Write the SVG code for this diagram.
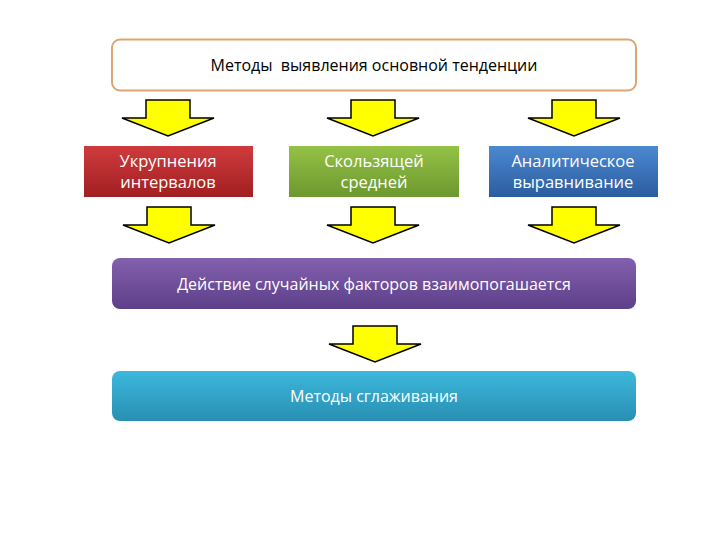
<svg xmlns="http://www.w3.org/2000/svg" width="720" height="540" viewBox="0 0 720 540">
<style>
.t{font-family:"Open Sans","Liberation Sans",sans-serif;font-size:16px;text-anchor:middle}
.b{font-size:16.5px}
.w{fill:#ffffff}
.arr{fill:#ffff00;stroke:#000000;stroke-width:1.5;stroke-linejoin:miter}
</style>
<defs>
<linearGradient id="gr" x1="0" y1="0" x2="0" y2="1"><stop offset="0" stop-color="#cf3b3d"/><stop offset="1" stop-color="#a11f22"/></linearGradient>
<linearGradient id="gg" x1="0" y1="0" x2="0" y2="1"><stop offset="0" stop-color="#94c246"/><stop offset="1" stop-color="#6d982f"/></linearGradient>
<linearGradient id="gb" x1="0" y1="0" x2="0" y2="1"><stop offset="0" stop-color="#4c89d0"/><stop offset="1" stop-color="#2b5c9f"/></linearGradient>
<linearGradient id="gp" x1="0" y1="0" x2="0" y2="1"><stop offset="0" stop-color="#8360ad"/><stop offset="1" stop-color="#5d3f8a"/></linearGradient>
<linearGradient id="gc" x1="0" y1="0" x2="0" y2="1"><stop offset="0" stop-color="#3cb8dc"/><stop offset="1" stop-color="#288fb2"/></linearGradient>
<path id="a" d="M-22,0 H22 V18 H46 L0,36 L-46,18 H-22 Z"/>
</defs>
<rect width="720" height="540" fill="#ffffff"/>
<g id="connectors">
<use href="#a" class="arr" x="168" y="100"/>
<use href="#a" class="arr" x="373" y="100"/>
<use href="#a" class="arr" x="574" y="100"/>
<use href="#a" class="arr" x="169" y="207"/>
<use href="#a" class="arr" x="373" y="207"/>
<use href="#a" class="arr" x="574" y="207"/>
<use href="#a" class="arr" x="375" y="326"/>
</g>
<g id="top">
<rect x="112" y="39.5" width="524" height="51" rx="8" fill="#ffffff" stroke="#dba66f" stroke-width="2"/>
<text class="t" x="374" y="71" fill="#000000" xml:space="preserve">Методы  выявления основной тенденции</text>
</g>
<g id="ukr">
<rect x="84" y="146" width="169" height="51" fill="url(#gr)"/>
<text class="t b w" x="168" y="167">Укрупнения</text>
<text class="t b w" x="168" y="188">интервалов</text>
</g>
<g id="skol">
<rect x="289" y="146" width="170" height="51" fill="url(#gg)"/>
<text class="t b w" x="374" y="167">Скользящей</text>
<text class="t b w" x="374" y="188">средней</text>
</g>
<g id="anal">
<rect x="489" y="146" width="169" height="51" fill="url(#gb)"/>
<text class="t b w" x="573" y="167">Аналитическое</text>
<text class="t b w" x="573" y="188">выравнивание</text>
</g>
<g id="deist">
<rect x="112" y="258" width="524" height="51" rx="8" fill="url(#gp)"/>
<text class="t w" x="374" y="290">Действие случайных факторов взаимопогашается</text>
</g>
<g id="sglazh">
<rect x="112" y="371" width="524" height="50" rx="8" fill="url(#gc)"/>
<text class="t w" x="374" y="402">Методы сглаживания</text>
</g>
</svg>
